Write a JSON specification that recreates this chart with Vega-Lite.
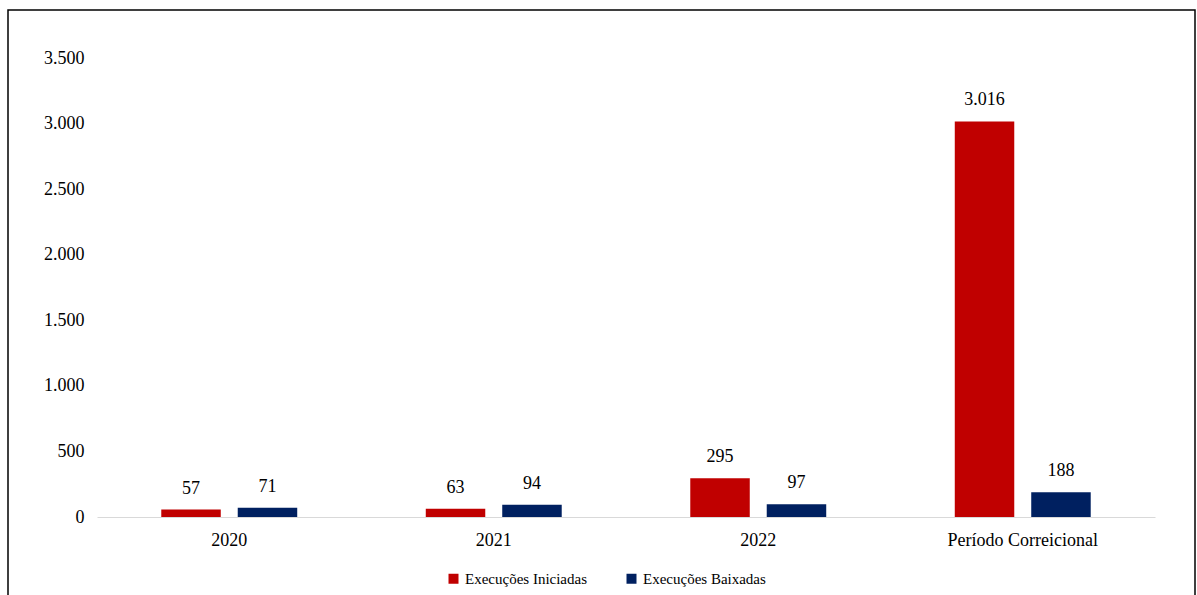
{
  "$schema": "https://vega.github.io/schema/vega-lite/v6.json",
  "width": 1187,
  "height": 600,
  "autosize": {"type": "none"},
  "padding": {"left": 8, "top": 10, "right": 2, "bottom": 0},
  "background": "#ffffff",
  "config": {
    "view": {"stroke": "#000000", "strokeWidth": 1.5},
    "font": "Liberation Serif",
    "locale": {"number": {"decimal": ",", "thousands": ".", "grouping": [3], "currency": ["R$", ""]}}
  },
  "data": {
    "values": [
      {"periodo": "2020", "serie": "Execuções Iniciadas", "valor": 57},
      {"periodo": "2020", "serie": "Execuções Baixadas", "valor": 71},
      {"periodo": "2021", "serie": "Execuções Iniciadas", "valor": 63},
      {"periodo": "2021", "serie": "Execuções Baixadas", "valor": 94},
      {"periodo": "2022", "serie": "Execuções Iniciadas", "valor": 295},
      {"periodo": "2022", "serie": "Execuções Baixadas", "valor": 97},
      {"periodo": "Período Correicional", "serie": "Execuções Iniciadas", "valor": 3016},
      {"periodo": "Período Correicional", "serie": "Execuções Baixadas", "valor": 188}
    ]
  },
  "encoding": {
    "x": {
      "field": "periodo",
      "type": "nominal",
      "sort": null,
      "scale": {"range": [89, 1147], "paddingInner": 0.486, "paddingOuter": 0.243},
      "axis": {
        "title": null,
        "labelAngle": 0,
        "offset": -93,
        "domainColor": "#d9d9d9",
        "domainWidth": 1,
        "ticks": false,
        "labelPadding": 14,
        "labelFontSize": 18,
        "labelColor": "#000000",
        "labelFont": "Liberation Serif"
      }
    },
    "xOffset": {
      "field": "serie",
      "type": "nominal",
      "sort": ["Execuções Iniciadas", "Execuções Baixadas"],
      "scale": {"paddingInner": 0.222, "paddingOuter": 0}
    },
    "y": {
      "field": "valor",
      "type": "quantitative",
      "scale": {"domain": [0, 3500], "range": [507, 48], "nice": false, "zero": true},
      "axis": {
        "title": null,
        "values": [0, 500, 1000, 1500, 2000, 2500, 3000, 3500],
        "format": ",.0f",
        "offset": -89,
        "domain": false,
        "ticks": false,
        "grid": false,
        "labelPadding": 13,
        "labelFontSize": 18,
        "labelColor": "#000000",
        "labelFont": "Liberation Serif"
      }
    }
  },
  "layer": [
    {
      "mark": {"type": "bar"},
      "encoding": {
        "y2": {"datum": 0},
        "color": {
          "field": "serie",
          "type": "nominal",
          "sort": ["Execuções Iniciadas", "Execuções Baixadas"],
          "scale": {"domain": ["Execuções Iniciadas", "Execuções Baixadas"], "range": ["#C00000", "#002060"]},
          "legend": {
            "title": null,
            "orient": "none",
            "legendX": 438,
            "legendY": 561,
            "direction": "horizontal",
            "symbolType": "square",
            "symbolSize": 100,
            "symbolStrokeWidth": 0,
            "labelFontSize": 15,
            "labelFont": "Liberation Serif",
            "labelColor": "#000000",
            "columnPadding": 36,
            "labelOffset": 4
          }
        }
      }
    },
    {
      "mark": {"type": "text", "baseline": "alphabetic", "dy": -16, "fontSize": 18, "font": "Liberation Serif", "color": "#000000"},
      "encoding": {
        "text": {"field": "valor", "type": "quantitative", "format": ",.0f"}
      }
    }
  ]
}
